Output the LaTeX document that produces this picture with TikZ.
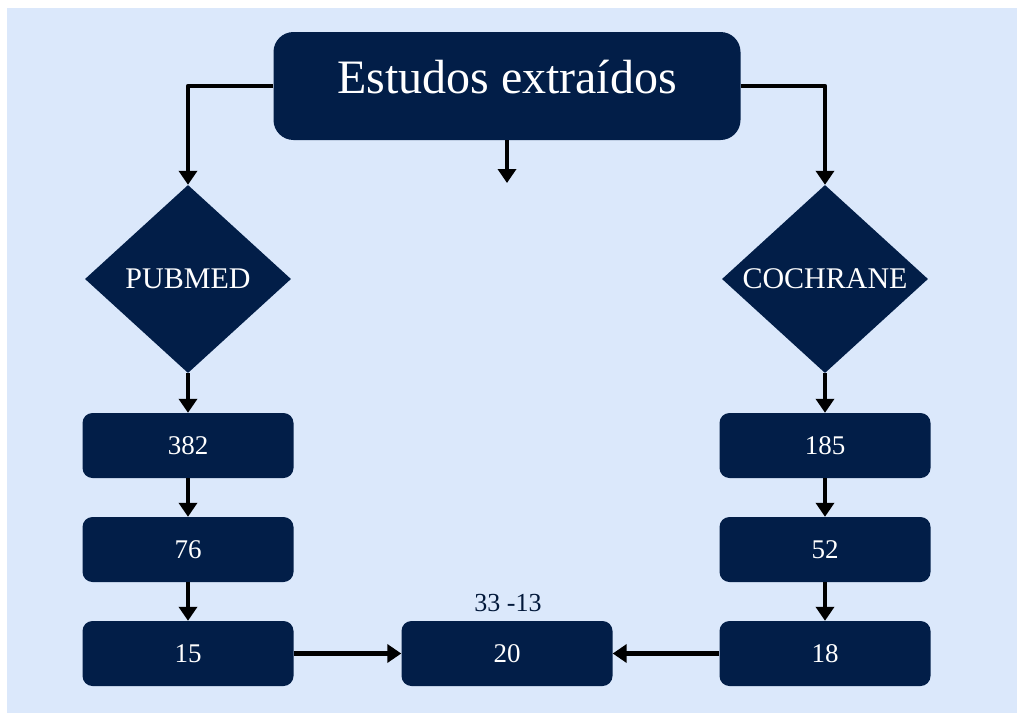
\documentclass[tikz,border=0pt]{standalone}
\usepackage{fontspec}
\setmainfont{Liberation Serif}
\usetikzlibrary{shapes.geometric,arrows.meta}
\definecolor{navyblue}{RGB}{2,30,72}
\definecolor{paleblue}{RGB}{219,232,251}
\begin{document}
\begin{tikzpicture}[x=1pt,y=-1pt,line join=round,>={Triangle[width=18pt,length=14pt]},
	link/.style={->,line width=4.5pt,black},
	numbox/.style={rectangle,rounded corners=10pt,fill=navyblue,text=white,minimum width=211pt,minimum height=65pt,inner sep=0pt,font=\fontsize{27}{31}\selectfont},
	base/.style={diamond,fill=navyblue,text=white,inner sep=0pt,minimum width=206pt,minimum height=188pt,font=\fontsize{30}{34}\selectfont}]
	\useasboundingbox (0,0) rectangle (1023,720);
	\fill[white] (0,0) rectangle (1023,720);
	\fill[paleblue] (7,8) rectangle (1017,713);
	% title
	\node[rectangle,rounded corners=20pt,fill=navyblue,text=white,minimum width=467pt,minimum height=108pt,
		text height=32pt,text depth=18pt,font=\fontsize{48}{53}\selectfont] (title) at (507,86) {Estudos extraídos};
	% databases
	\node[base] (pubmed) at (188,279) {PUBMED};
	\node[base] (cochrane) at (825,279) {COCHRANE};
	% counts
	\node[numbox] (p1) at (188,445.5) {382};
	\node[numbox] (p2) at (188,549.5) {76};
	\node[numbox] (p3) at (188,653.5) {15};
	\node[numbox] (c1) at (825,445.5) {185};
	\node[numbox] (c2) at (825,549.5) {52};
	\node[numbox] (c3) at (825,653.5) {18};
	\node[numbox] (total) at (507,653.5) {20};
	\node[text=navyblue!80!black,font=\fontsize{26}{30}\selectfont] (diff) at (508,603) {33 -13};
	\coordinate (gap) at (507,183);
	% links
	\draw[link] (title.west) -| (pubmed.north);
	\draw[link] (title.east) -| (cochrane.north);
	\draw[link] (title.south) -- (gap);
	\draw[link] (pubmed.south) -- (p1.north);
	\draw[link] (p1.south) -- (p2.north);
	\draw[link] (p2.south) -- (p3.north);
	\draw[link] (cochrane.south) -- (c1.north);
	\draw[link] (c1.south) -- (c2.north);
	\draw[link] (c2.south) -- (c3.north);
	\draw[link] (p3.east) -- (total.west);
	\draw[link] (c3.west) -- (total.east);
\end{tikzpicture}
\end{document}
